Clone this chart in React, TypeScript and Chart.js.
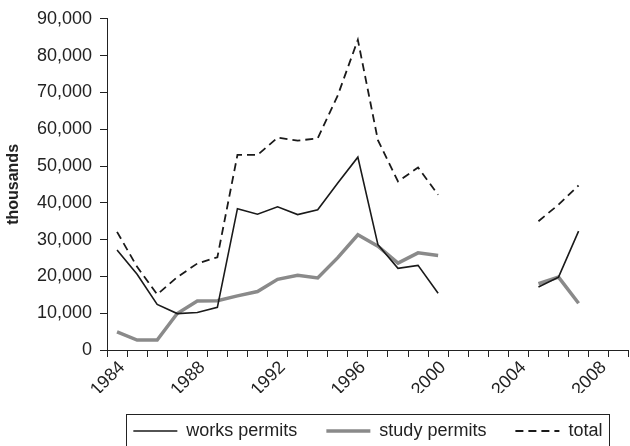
import React, { useEffect, useRef } from 'react';
import { Chart, registerables } from 'chart.js';

Chart.register(...registerables);

const years = ['1984','1985','1986','1987','1988','1989','1990','1991','1992','1993','1994','1995','1996','1997','1998','1999','2000','2001','2002','2003','2004','2005','2006','2007','2008','2009'];

const worksPermits = [27200, 20600, 12400, 9900, 10200, 11600, 38400, 36900, 38900, 36800, 38100, 45400, 52400, 28600, 22200, 23000, 15400, null, null, null, null, 17100, 19800, 32300, null, null];
const studyPermits = [4900, 2700, 2700, 9900, 13300, 13400, 14700, 15900, 19200, 20300, 19600, 25100, 31300, 28200, 23600, 26400, 25700, null, null, null, null, 18000, 19800, 12700, null, null];
const totalPermits = [32100, 22600, 15100, 19800, 23500, 25200, 53000, 53000, 57700, 56900, 57500, 69200, 84300, 57000, 45800, 49600, 42200, null, null, null, null, 35000, 39500, 44700, null, null];

const seriesNames = ['works permits', 'study permits', 'total'];
const yAxisTitle = 'thousands';
const yMin = 0;
const yMax = 90000;
const yStep = 10000;
const labelEvery = 4;

const INK = '#222';
const FONT = '"Liberation Sans", Arial, sans-serif';

const legendBoxPlugin = {
  id: 'legendBox',
  afterLayout(chart: any) {
    const lg = chart.legend;
    if (!lg) return;
    // centre the legend under the plot area, keeping its full width
    const ca = chart.chartArea;
    const shift = (ca.left + ca.right) / 2 - (lg.left + lg.right) / 2;
    lg.left += shift;
    lg.right += shift;
  },
  afterDraw(chart: any) {
    const lg = chart.legend;
    if (!lg || !lg.legendHitBoxes || !lg.legendHitBoxes.length) return;
    const hb = lg.legendHitBoxes;
    const first = hb[0];
    const last = hb[hb.length - 1];
    const left = Math.round(first.left - 7) + 0.5;
    const right = Math.round(last.left + last.width + 7) + 0.5;
    const cy = first.top + first.height / 2;
    const top = Math.round(cy - 17) + 0.5;
    const ctx = chart.ctx;
    ctx.save();
    ctx.strokeStyle = INK;
    ctx.lineWidth = 1;
    ctx.strokeRect(left, top, right - left, chart.height);
    ctx.restore();
  },
};

export default function App() {
  const ref = useRef<HTMLCanvasElement | null>(null);

  useEffect(() => {
    if (!ref.current) return;
    Chart.defaults.font.family = FONT;
    Chart.defaults.color = INK;
    const chart = new Chart(ref.current, {
      type: 'line',
      data: {
        labels: years,
        datasets: [
          {
            label: seriesNames[0],
            data: worksPermits,
            borderColor: '#1a1a1a',
            backgroundColor: '#1a1a1a',
            borderWidth: 1.6,
            pointRadius: 0,
            tension: 0,
            spanGaps: false,
          },
          {
            label: seriesNames[1],
            data: studyPermits,
            borderColor: '#8a8a8a',
            backgroundColor: '#8a8a8a',
            borderWidth: 3.5,
            pointRadius: 0,
            tension: 0,
            spanGaps: false,
          },
          {
            label: seriesNames[2],
            data: totalPermits,
            borderColor: '#1a1a1a',
            backgroundColor: '#1a1a1a',
            borderWidth: 1.8,
            borderDash: [8, 5],
            pointRadius: 0,
            tension: 0,
            spanGaps: false,
          },
        ],
      },
      options: {
        responsive: false,
        animation: false,
        devicePixelRatio: 1,
        layout: { padding: { top: 16, left: 0, right: 0, bottom: 0 } },
        plugins: {
          tooltip: { enabled: false },
          legend: {
            position: 'bottom',
            labels: {
              usePointStyle: true,
              pointStyle: 'line',
              pointStyleWidth: 44,
              padding: 29,
              color: INK,
              font: { size: 18, family: FONT },
              generateLabels: (chart: any) => {
                const items = Chart.defaults.plugins.legend.labels.generateLabels(chart);
                return items.map((it: any) => {
                  const ds: any = chart.data.datasets[it.datasetIndex];
                  return {
                    ...it,
                    lineDash: ds.borderDash || [],
                    lineWidth: ds.borderWidth,
                    strokeStyle: ds.borderColor,
                    fillStyle: ds.borderColor,
                    pointStyle: 'line',
                  };
                });
              },
            },
          },
        },
        scales: {
          x: {
            type: 'category',
            offset: true,
            grid: {
              offset: true,
              drawOnChartArea: false,
              drawTicks: true,
              tickLength: 7,
              color: INK,
              lineWidth: 1,
            },
            border: { display: true, color: INK, width: 1 },
            ticks: {
              autoSkip: false,
              minRotation: 45,
              maxRotation: 45,
              padding: 0,
              labelOffset: 5,
              color: INK,
              font: { size: 18, family: FONT },
              callback: function (this: any, value: any, index: number) {
                const y = Number(years[index]);
                return y % labelEvery === 0 ? years[index] : '';
              },
            },
            afterFit: (scale: any) => {
              scale.height = 43;
            },
          },
          y: {
            min: yMin,
            max: yMax,
            grid: {
              drawOnChartArea: false,
              drawTicks: true,
              tickLength: 7,
              color: INK,
              lineWidth: 1,
            },
            border: { display: true, color: INK, width: 1 },
            ticks: {
              stepSize: yStep,
              padding: 8,
              color: INK,
              font: { size: 18, family: FONT },
              callback: (v: any) => Number(v).toLocaleString('en-US'),
            },
            title: {
              display: true,
              text: yAxisTitle,
              color: INK,
              font: { size: 16, weight: 'bold', family: FONT },
              padding: { top: 4, bottom: 4 },
            },
            afterFit: (scale: any) => {
              scale.width = 107;
            },
          },
        },
      },
      plugins: [legendBoxPlugin],
    } as any);
    return () => chart.destroy();
  }, []);

  return (
    <div
      style={{
        position: 'fixed',
        left: 0,
        top: 0,
        width: 630,
        height: 446,
        overflow: 'hidden',
        background: '#fff',
      }}
    >
      <canvas ref={ref} width={634} height={450} style={{ display: 'block' }} />
    </div>
  );
}
